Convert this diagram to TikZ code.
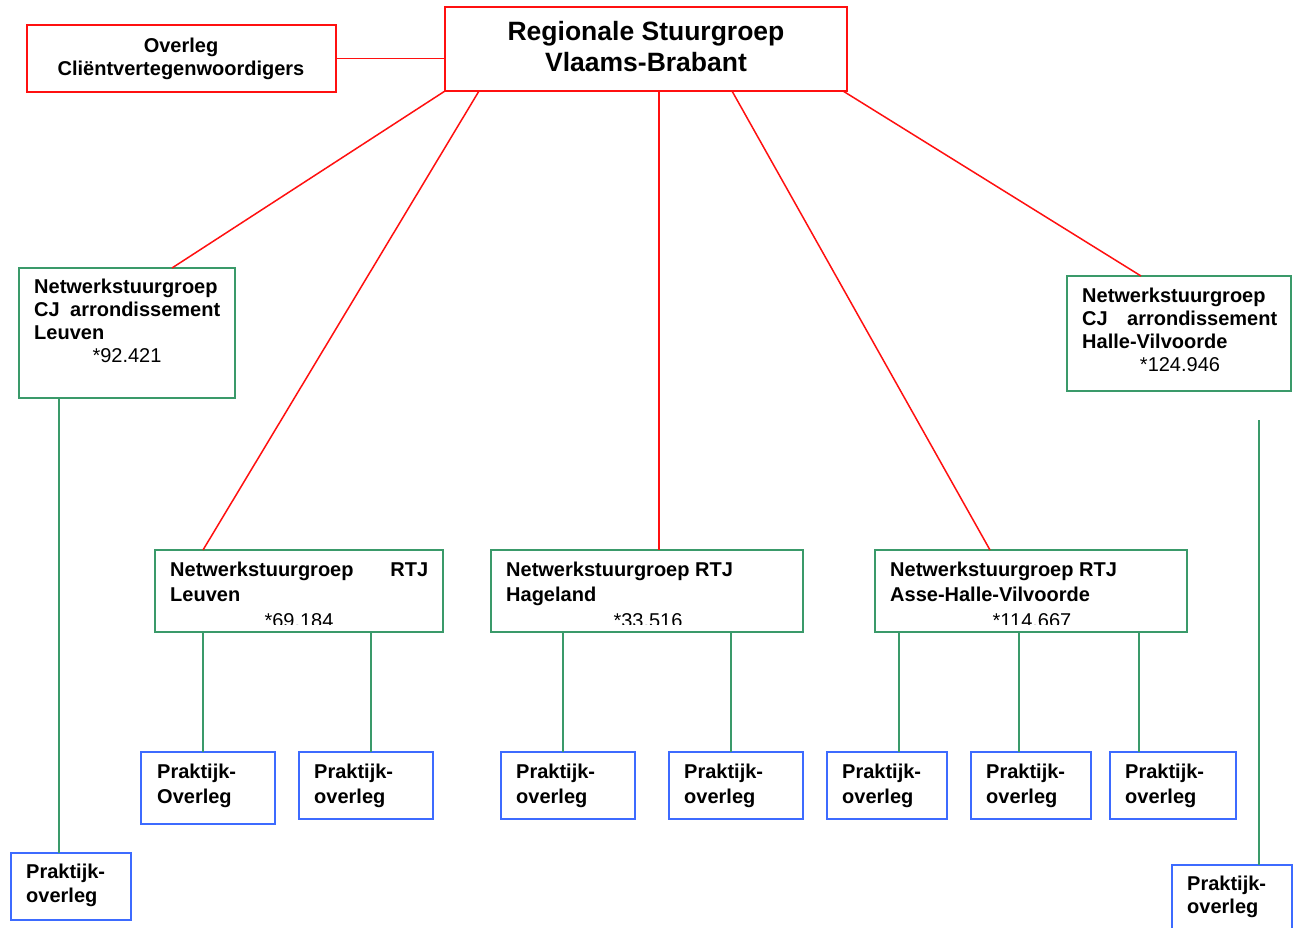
\documentclass[tikz,border=0pt]{standalone}
\usepackage{fontspec}
\setmainfont{Liberation Sans}
\usetikzlibrary{calc}
\definecolor{cred}{HTML}{FF1010}
\definecolor{cgreen}{HTML}{3A9A6A}
\definecolor{cblue}{HTML}{3D6BFF}
\tikzset{
  boxbase/.style={rectangle, line width=2pt, inner sep=0pt, outer sep=0pt, anchor=north west},
  redbox/.style={boxbase, draw=cred},
  greenbox/.style={boxbase, draw=cgreen},
  bluebox/.style={boxbase, draw=cblue},
  txt/.style={inner sep=0pt, font=\fontsize{20}{23}\selectfont\bfseries, anchor=base west},
  ctxt/.style={inner sep=0pt, font=\fontsize{20}{23}\selectfont\bfseries, anchor=base},
  num/.style={inner sep=0pt, font=\fontsize{20}{23}\selectfont, anchor=base},
  ttl/.style={inner sep=0pt, font=\fontsize{26.5}{31}\selectfont\bfseries, anchor=base},
  redline/.style={draw=cred, line width=1.5pt},
  greenline/.style={draw=cgreen, line width=2pt},
}
\begin{document}
\begin{tikzpicture}[x=1pt,y=-1pt]
\useasboundingbox (0,0) rectangle (1297,927);
\fill[white] (0,0) rectangle (1297,927);

% ---- boxes ----
\node[redbox, minimum width=309pt, minimum height=67pt] (ovl) at (27,25) {};
\node[redbox, minimum width=402pt, minimum height=84pt] (reg) at (445,7) {};
\node[greenbox, minimum width=216pt, minimum height=130pt] (cjl) at (19,268) {};
\node[greenbox, minimum width=224pt, minimum height=115pt] (cjh) at (1067,276) {};
\node[greenbox, minimum width=288pt, minimum height=82pt] (rtjl) at (155,550) {};
\node[greenbox, minimum width=312pt, minimum height=82pt] (rtjh) at (491,550) {};
\node[greenbox, minimum width=312pt, minimum height=82pt] (rtja) at (875,550) {};
\node[bluebox, minimum width=134pt, minimum height=72pt] (p1) at (141,752) {};
\node[bluebox, minimum width=134pt, minimum height=67pt] (p2) at (299,752) {};
\node[bluebox, minimum width=134pt, minimum height=67pt] (p3) at (501,752) {};
\node[bluebox, minimum width=134pt, minimum height=67pt] (p4) at (669,752) {};
\node[bluebox, minimum width=120pt, minimum height=67pt] (p5) at (827,752) {};
\node[bluebox, minimum width=120pt, minimum height=67pt] (p6) at (971,752) {};
\node[bluebox, minimum width=126pt, minimum height=67pt] (p7) at (1110,752) {};
\node[bluebox, minimum width=120pt, minimum height=67pt] (pbl) at (11,853) {};
\node[bluebox, minimum width=120pt, minimum height=72pt] (pbr) at (1172,865) {};

% ---- texts ----
\node[ctxt] (ovl1) at (181,52) {Overleg};
\node[ctxt] (ovl2) at (181,75) {Cliëntvertegenwoordigers};
\node[ttl] (reg1) at (646,40) {Regionale Stuurgroep};
\node[ttl] (reg2) at (646,71) {Vlaams-Brabant};

\node[txt] (cjl1) at (34,293) {Netwerkstuurgroep};
\node[txt] (cjl2) at (34,316) {\makebox[186pt][s]{CJ arrondissement}};
\node[txt] (cjl3) at (34,339) {Leuven};
\node[num] (cjl4) at (127,362) {*92.421};

\node[txt] (cjh1) at (1082,302) {Netwerkstuurgroep};
\node[txt] (cjh2) at (1082,325) {\makebox[195pt][s]{CJ arrondissement}};
\node[txt] (cjh3) at (1082,348) {Halle-Vilvoorde};
\node[num] (cjh4) at (1180,371) {*124.946};

\node[txt] (rtjl1) at (170,576) {\makebox[258pt][s]{Netwerkstuurgroep RTJ}};
\node[txt] (rtjl2) at (170,601) {Leuven};
\node[txt] (rtjh1) at (506,576) {Netwerkstuurgroep RTJ};
\node[txt] (rtjh2) at (506,601) {Hageland};
\node[txt] (rtja1) at (890,576) {Netwerkstuurgroep RTJ};
\node[txt] (rtja2) at (890,601) {Asse-Halle-Vilvoorde};
\begin{scope}
\clip (0,540) rectangle (1297,624.5);
\node[num] (rtjl3) at (299,627) {*69.184};
\node[num] (rtjh3) at (648,627) {*33.516};
\node[num] (rtja3) at (1032,627) {*114.667};
\end{scope}

\node[txt] (p1a) at (157,778) {Praktijk-};
\node[txt] (p1b) at (157,803) {Overleg};
\node[txt] (p2a) at (314,778) {Praktijk-};
\node[txt] (p2b) at (314,803) {overleg};
\node[txt] (p3a) at (516,778) {Praktijk-};
\node[txt] (p3b) at (516,803) {overleg};
\node[txt] (p4a) at (684,778) {Praktijk-};
\node[txt] (p4b) at (684,803) {overleg};
\node[txt] (p5a) at (842,778) {Praktijk-};
\node[txt] (p5b) at (842,803) {overleg};
\node[txt] (p6a) at (986,778) {Praktijk-};
\node[txt] (p6b) at (986,803) {overleg};
\node[txt] (p7a) at (1125,778) {Praktijk-};
\node[txt] (p7b) at (1125,803) {overleg};
\node[txt] (pbla) at (26,878) {Praktijk-};
\node[txt] (pblb) at (26,902) {overleg};
\node[txt] (pbra) at (1187,890) {Praktijk-};
\node[txt] (pbrb) at (1187,913) {overleg};

% ---- red connectors ----
\draw[redline] (ovl.east) -- (ovl.east -| reg.west);
\draw[redline] (reg.south west) -- ($(cjl.north west)+(153,0)$);
\draw[redline] ($(reg.south west)+(34,0)$) -- ($(rtjl.north west)+(48,0)$);
\draw[redline] ($(reg.south west)+(214,0)$) -- ($(rtjh.north west)+(168,0)$);
\draw[redline] ($(reg.south west)+(287,0)$) -- ($(rtja.north west)+(115,0)$);
\draw[redline] ($(reg.south west)+(398,0)$) -- ($(cjh.north west)+(74,0)$);

% ---- green connectors ----
\draw[greenline] ($(cjl.south west)+(40,0)$) -- ($(pbl.north west)+(48,0)$);
\coordinate (hfree) at (1259,420);
\draw[greenline] (hfree) -- (hfree |- pbr.north);
\draw[greenline] ($(rtjl.south west)+(48,0)$) -- ($(p1.north west)+(62,0)$);
\draw[greenline] ($(rtjl.south west)+(216,0)$) -- ($(p2.north west)+(72,0)$);
\draw[greenline] ($(rtjh.south west)+(72,0)$) -- ($(p3.north west)+(62,0)$);
\draw[greenline] ($(rtjh.south west)+(240,0)$) -- ($(p4.north west)+(62,0)$);
\draw[greenline] ($(rtja.south west)+(24,0)$) -- ($(p5.north west)+(72,0)$);
\draw[greenline] ($(rtja.south west)+(144,0)$) -- ($(p6.north west)+(48,0)$);
\draw[greenline] ($(rtja.south west)+(264,0)$) -- ($(p7.north west)+(29,0)$);
\end{tikzpicture}
\end{document}
